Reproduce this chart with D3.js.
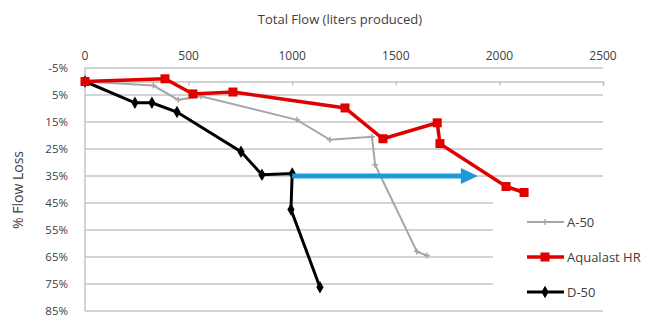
<!DOCTYPE html>
<html lang="en">
<head>
    <meta charset="UTF-8">
    <title>Total Flow vs % Flow Loss</title>
    <script src="https://cdnjs.cloudflare.com/ajax/libs/d3/7.8.5/d3.min.js"></script>
    <style>
        body {
            margin: 0;
            background: #fff;
            font-family: "Open Sans", "DejaVu Sans", sans-serif;
        }
        svg text {
            fill: #404040;
        }
    </style>
</head>
<body>
    <div id="chart"></div>

    <script>
        // Values: [total flow (liters), % flow loss]
        const seriesNames = ["A-50", "Aqualast HR", "D-50"];
        const a50 = [[0, 0], [330, 1.5], [450, 6.8], [560, 5.5], [1023, 14.2], [1182, 21.6],
                     [1385, 20.5], [1400, 30.8], [1602, 63], [1650, 64.4]];
        const aqualast = [[0, 0], [386, -1], [521, 4.6], [714, 3.9], [1255, 9.8], [1438, 21.2],
                          [1700, 15.3], [1713, 23], [2032, 38.9], [2119, 41.1]];
        const d50 = [[0, 0], [241, 7.9], [323, 7.9], [444, 11.3], [753, 26], [854, 34.5],
                     [1000, 34.1], [994, 47.4], [1134, 76.2]];
        const arrowFrom = [1000, 35];
        const arrowTo = [1896, 35];
        const xTicks = [0, 500, 1000, 1500, 2000, 2500];
        const yTicks = [-5, 5, 15, 25, 35, 45, 55, 65, 75, 85];

        const width = 667, height = 318;

        const svg = d3.select("#chart")
            .append("svg")
            .attr("width", width)
            .attr("height", height);

        const x = d3.scaleLinear().domain([0, 2500]).range([85, 603]);
        const y = d3.scaleLinear().domain([-5, 85]).range([68, 311]);

        // horizontal gridlines
        svg.append("g")
            .selectAll("line")
            .data(yTicks)
            .enter()
            .append("line")
            .attr("x1", x(0))
            .attr("x2", x(2500))
            .attr("y1", d => y(d))
            .attr("y2", d => y(d))
            .attr("stroke", "#c4c4c4")
            .attr("stroke-width", 1.5);

        // y axis line
        svg.append("line")
            .attr("x1", x(0)).attr("x2", x(0))
            .attr("y1", y(-5)).attr("y2", y(85))
            .attr("stroke", "#c4c4c4")
            .attr("stroke-width", 1.5);

        // x axis crosses at 0%, labels sit on top
        const xAxis = svg.append("g")
            .attr("transform", `translate(0,${y(0)})`)
            .call(d3.axisBottom(x).tickValues(xTicks).tickSize(4).tickFormat(""));
        xAxis.select(".domain").attr("stroke", "#c4c4c4").attr("stroke-width", 1.5);
        xAxis.selectAll(".tick line").attr("stroke", "#c4c4c4").attr("stroke-width", 1.5);

        svg.append("g")
            .selectAll("text")
            .data(xTicks)
            .enter()
            .append("text")
            .attr("x", d => x(d))
            .attr("y", 60)
            .attr("text-anchor", "middle")
            .attr("font-size", 12)
            .text(d => d);

        svg.append("g")
            .selectAll("text")
            .data(yTicks)
            .enter()
            .append("text")
            .attr("x", 68)
            .attr("y", d => y(d) + 4)
            .attr("text-anchor", "end")
            .attr("font-size", 11.5)
            .text(d => d + "%");

        // axis titles
        svg.append("text")
            .attr("x", 340)
            .attr("y", 24)
            .attr("text-anchor", "middle")
            .attr("font-size", 13)
            .text("Total Flow (liters produced)");

        svg.append("text")
            .attr("transform", "translate(23,190) rotate(-90)")
            .attr("text-anchor", "middle")
            .attr("font-size", 14)
            .text("% Flow Loss");

        const line = d3.line().x(d => x(d[0])).y(d => y(d[1]));

        // A-50 grey
        svg.append("path")
            .datum(a50)
            .attr("d", line)
            .attr("fill", "none")
            .attr("stroke", "#a6a6a6")
            .attr("stroke-width", 2);
        svg.append("g")
            .selectAll("path")
            .data(a50)
            .enter()
            .append("path")
            .attr("d", d => `M${x(d[0]) - 3},${y(d[1])}h6M${x(d[0])},${y(d[1]) - 3}v6`)
            .attr("stroke", "#a6a6a6")
            .attr("stroke-width", 1.5);

        // D-50 black
        svg.append("path")
            .datum(d50)
            .attr("d", line)
            .attr("fill", "none")
            .attr("stroke", "#000")
            .attr("stroke-width", 3);
        svg.append("g")
            .selectAll("path")
            .data(d50)
            .enter()
            .append("path")
            .attr("transform", d => `translate(${x(d[0])},${y(d[1])})`)
            .attr("d", d3.symbol().type(d3.symbolDiamond).size(45))
            .attr("fill", "#000");

        // Aqualast HR red
        svg.append("path")
            .datum(aqualast)
            .attr("d", line)
            .attr("fill", "none")
            .attr("stroke", "#e00000")
            .attr("stroke-width", 3.5);
        svg.append("g")
            .selectAll("rect")
            .data(aqualast)
            .enter()
            .append("rect")
            .attr("x", d => x(d[0]) - 4.5)
            .attr("y", d => y(d[1]) - 4.5)
            .attr("width", 9)
            .attr("height", 9)
            .attr("fill", "#e00000");

        // blue arrow
        const ax1 = x(arrowFrom[0]), ax2 = x(arrowTo[0]), ay = y(arrowFrom[1]);
        svg.append("line")
            .attr("x1", ax1).attr("x2", ax2 - 14)
            .attr("y1", ay).attr("y2", ay)
            .attr("stroke", "#1e9bd7")
            .attr("stroke-width", 5);
        svg.append("path")
            .attr("d", `M${ax2},${ay}L${ax2 - 17},${ay - 8}L${ax2 - 17},${ay + 8}Z`)
            .attr("fill", "#1e9bd7");

        // legend box covers the grid behind it
        const legend = svg.append("g");
        legend.append("rect")
            .attr("x", 493)
            .attr("y", 199)
            .attr("width", 174)
            .attr("height", 106)
            .attr("fill", "#fff");

        const legendY = [222, 257, 292];
        const legendColor = ["#a6a6a6", "#e00000", "#000"];
        const legendWidth = [2, 3.5, 3];
        seriesNames.forEach((name, i) => {
            const ly = legendY[i];
            legend.append("line")
                .attr("x1", 527).attr("x2", 564)
                .attr("y1", ly).attr("y2", ly)
                .attr("stroke", legendColor[i])
                .attr("stroke-width", legendWidth[i]);
            if (i === 0) {
                legend.append("path")
                    .attr("d", `M542,${ly}h6M545,${ly - 3}v6`)
                    .attr("stroke", "#a6a6a6").attr("stroke-width", 1.5);
            } else if (i === 1) {
                legend.append("rect")
                    .attr("x", 540.5).attr("y", ly - 4.5)
                    .attr("width", 9).attr("height", 9)
                    .attr("fill", "#e00000");
            } else {
                legend.append("path")
                    .attr("transform", `translate(545,${ly})`)
                    .attr("d", d3.symbol().type(d3.symbolDiamond).size(45))
                    .attr("fill", "#000");
            }
            legend.append("text")
                .attr("x", 567)
                .attr("y", ly + 5)
                .attr("font-size", 13)
                .text(name);
        });
    </script>
</body>
</html>
